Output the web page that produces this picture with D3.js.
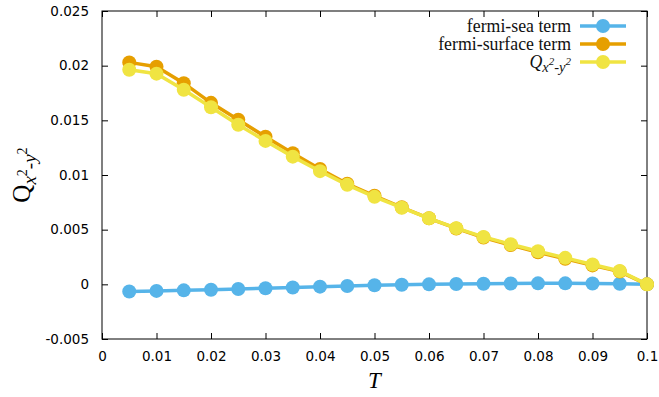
<!DOCTYPE html>
<html><head><meta charset="utf-8">
<script src="https://cdn.jsdelivr.net/npm/d3@7"></script>
<style>body{margin:0;background:#fff}</style>
</head><body>
<svg id="c" width="659" height="397"></svg>
<script>
const temps = [0.005,0.01,0.015,0.02,0.025,0.03,0.035,0.04,0.045,0.05,0.055,0.06,0.065,0.07,0.075,0.08,0.085,0.09,0.095,0.1];
const seaTerm = [-0.00065,-0.0006,-0.00055,-0.0005,-0.00043,-0.00036,-0.00029,-0.00021,-0.00015,-0.00009,-0.00004,0.00000,0.00003,0.00006,0.00008,0.00009,0.00009,0.00008,0.00005,0];
const surfaceTerm = [0.0203,0.0199,0.0184,0.0166,0.01505,0.0135,0.0120,0.01055,0.0092,0.0081,0.00705,0.00604,0.00511,0.00428,0.00359,0.00293,0.00233,0.00173,0.00117,0];
const totalQ = [0.01963,0.01927,0.0178,0.0162,0.01459,0.01312,0.01168,0.01035,0.0091,0.0080,0.00701,0.00604,0.00514,0.00434,0.00367,0.00302,0.00242,0.00181,0.00122,0];
const xTicks = [0,0.01,0.02,0.03,0.04,0.05,0.06,0.07,0.08,0.09,0.1];
const yTicks = [-0.005,0,0.005,0.01,0.015,0.02,0.025];

const svg = d3.select('#c');
const L=102, R=647, T=11, B=339;
const x = d3.scaleLinear().domain([0,0.1]).range([L,R]);
const y = d3.scaleLinear().domain([-0.005,0.025]).range([B,T]);

const tickFont = "DejaVu Sans";
const gx = svg.append('g').attr('transform',`translate(0,${B})`)
  .call(d3.axisBottom(x).tickValues(xTicks).tickSize(-6).tickPadding(12).tickFormat(d=>String(+d.toFixed(3))));
const gxt = svg.append('g').attr('transform',`translate(0,${T})`)
  .call(d3.axisTop(x).tickValues(xTicks).tickSize(-6).tickFormat(''));
const gy = svg.append('g').attr('transform',`translate(${L},0)`)
  .call(d3.axisLeft(y).tickValues(yTicks).tickSize(-6).tickPadding(13).tickFormat(d=>String(+d.toFixed(3))));
const gyr = svg.append('g').attr('transform',`translate(${R},0)`)
  .call(d3.axisRight(y).tickValues(yTicks).tickSize(-6).tickFormat(''));
[gx,gxt,gy,gyr].forEach(g=>{
  g.select('.domain').remove();
  g.selectAll('line').attr('stroke','#000');
  g.selectAll('text').attr('font-family',tickFont).attr('font-size',13.5).attr('fill','#000');
});
svg.append('rect').attr('x',L).attr('y',T).attr('width',R-L).attr('height',B-T)
  .attr('fill','none').attr('stroke','#000').attr('stroke-width',1);

const series = [
  {name:'sea', vals:seaTerm, color:'#56b4e9'},
  {name:'surf', vals:surfaceTerm, color:'#e69f00'},
  {name:'tot', vals:totalQ, color:'#f0e442'}
];
const line = d3.line().x(d=>x(d[0])).y(d=>y(d[1]));
series.forEach(s=>{
  const pts = temps.map((t,i)=>[t,s.vals[i]]);
  svg.append('path').datum(pts).attr('d',line).attr('fill','none')
    .attr('stroke',s.color).attr('stroke-width',3.5);
  svg.append('g').selectAll('circle').data(pts).join('circle')
    .attr('cx',d=>x(d[0])).attr('cy',d=>y(d[1])).attr('r',7).attr('fill',s.color);
});

// legend
const lg = svg.append('g').attr('font-family','Liberation Serif').attr('font-size',17.8).attr('fill','#111');
const rows = [26,44,62];
const lx = 571;
lg.append('text').attr('x',lx).attr('y',rows[0]).attr('dy','0.33em').attr('text-anchor','end').text('fermi-sea term');
lg.append('text').attr('x',lx).attr('y',rows[1]).attr('dy','0.33em').attr('text-anchor','end').text('fermi-surface term');
const q = lg.append('text').attr('x',lx).attr('y',rows[2]).attr('dy','0.33em').attr('text-anchor','end').attr('font-style','italic');
q.append('tspan').text('Q');
q.append('tspan').attr('font-size',14.5).attr('dy',4).text('x');
q.append('tspan').attr('font-size',11).attr('dy',-7).text('2');
q.append('tspan').attr('font-size',14.5).attr('dy',7).text('-y');
q.append('tspan').attr('font-size',11).attr('dy',-7).text('2');
series.forEach((s,i)=>{
  lg.append('line').attr('x1',580).attr('x2',626).attr('y1',rows[i]).attr('y2',rows[i])
    .attr('stroke',s.color).attr('stroke-width',3.5);
  lg.append('circle').attr('cx',603).attr('cy',rows[i]).attr('r',7).attr('fill',s.color);
});

// axis labels
svg.append('text').attr('x',(L+R)/2).attr('y',388).attr('text-anchor','middle')
  .attr('font-family','Liberation Serif').attr('font-style','italic').attr('font-size',23).text('T');
const yl = svg.append('text').attr('transform',`translate(30,${(T+B)/2}) rotate(-90)`).attr('text-anchor','middle')
  .attr('font-family','Liberation Serif').attr('font-size',25);
yl.append('tspan').text('Q');
yl.append('tspan').attr('font-size',19).attr('dy',6).attr('font-style','italic').text('x');
yl.append('tspan').attr('font-size',14).attr('dy',-9).text('2');
yl.append('tspan').attr('font-size',19).attr('dy',9).attr('font-style','italic').text('-y');
yl.append('tspan').attr('font-size',14).attr('dy',-9).text('2');
</script>
</body></html>
